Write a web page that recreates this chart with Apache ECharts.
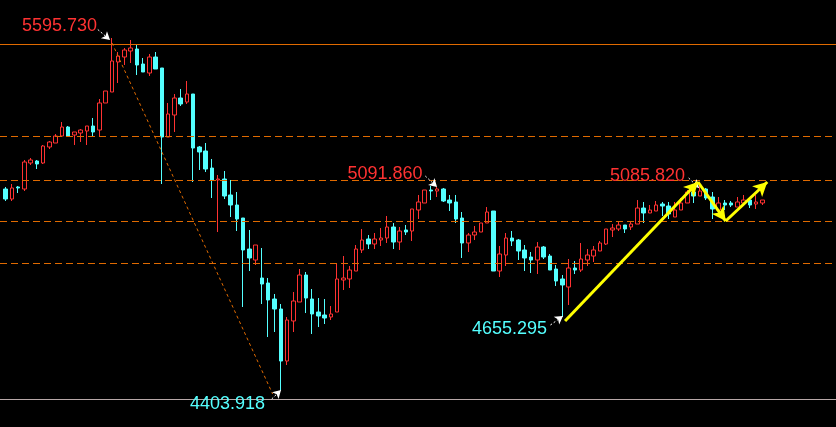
<!DOCTYPE html>
<html><head><meta charset="utf-8">
<script src="https://cdn.jsdelivr.net/npm/echarts@6/dist/echarts.min.js"></script>
<style>html,body{margin:0;padding:0;background:#000;}#c{width:836px;height:427px;}</style>
</head><body><div id="c"></div>
<script>
const opens = [
5084.5,5050.6,5091.3,5084.5,5172.5,5179.3,5172.5,5226.7,5240.2,5263.9,
5294.4,5267.3,5274.1,5280.9,5297.8,5284.2,5375.7,5412.9,5514.5,5531.4,
5551.7,5558.5,5507.7,5477.2,5531.4,5494.2,5260.5,5335.0,5392.6,5379.0,
5406.1,5226.7,5213.1,5155.6,5115.0,5118.3,5064.2,5030.3,4986.3,4881.3,
4844.1,4783.2,4766.2,4712.0,4678.2,4502.1,4637.6,4701.9,4793.3,4712.0,
4668.0,4657.9,4651.1,4668.0,4776.4,4779.8,4806.8,4878.0,4915.2,4898.3,
4911.8,4918.6,4955.8,4905.0,4945.7,4942.3,5013.4,5037.1,5081.1,5077.7,
5084.5,5047.2,5040.5,4986.3,4901.7,4928.7,4938.9,4969.4,5010.0,4806.8,
4861.0,4918.6,4911.8,4878.0,4854.2,4844.1,4888.1,4857.6,4813.6,4779.8,
4752.7,4817.0,4810.2,4844.1,4857.6,4874.6,4898.3,4945.7,4949.1,4962.6,
4955.8,4965.9,5020.1,5003.2,5010.0,5033.7,5026.9,4989.7,5013.4,5037.1,
5074.3,5060.8,5084.5,5057.4,5013.4,5037.1,5037.1,5023.5,5037.1,5047.2,
5033.7,5037.1];
const closes = [
5050.6,5087.9,5087.9,5175.9,5182.7,5169.1,5230.1,5243.6,5263.9,5294.4,
5263.9,5277.5,5284.2,5297.8,5277.5,5375.7,5416.3,5517.9,5534.8,5555.1,
5561.9,5504.3,5480.6,5531.4,5490.8,5260.5,5338.4,5392.6,5372.3,5406.1,
5223.3,5209.8,5152.2,5115.0,5118.3,5060.8,5030.3,4982.9,4878.0,4850.9,
4894.9,4762.8,4708.7,4678.2,4502.1,4640.9,4705.3,4793.3,4715.4,4661.3,
4654.5,4647.7,4661.3,4779.8,4783.2,4810.2,4881.3,4911.8,4898.3,4915.2,
4918.6,4955.8,4905.0,4942.3,4938.9,5016.8,5040.5,5081.1,5077.7,5084.5,
5043.9,5037.1,4982.9,4901.7,4928.7,4938.9,4969.4,5006.6,4806.8,4864.4,
4918.6,4908.4,4874.6,4850.9,4844.1,4888.1,4854.2,4810.2,4773.0,4759.5,
4817.0,4810.2,4847.5,4861.0,4878.0,4901.7,4949.1,4952.4,4962.6,4949.1,
4965.9,5020.1,5003.2,5013.4,5030.3,5026.9,4999.8,5013.4,5037.1,5074.3,
5060.8,5077.7,5054.0,5016.8,5037.1,5030.3,5030.3,5040.5,5047.2,5030.3,
5040.5,5047.2];
const lows = [
5043.9,5043.9,5070.9,5077.7,5165.7,5152.2,5169.1,5219.9,5240.2,5263.9,
5263.9,5233.5,5243.6,5233.5,5263.9,5263.9,5375.7,5412.9,5443.4,5504.3,
5511.1,5470.5,5480.6,5467.1,5490.8,5101.4,5260.5,5277.5,5365.5,5372.3,
5108.2,5148.8,5142.0,5054.0,4938.9,5050.6,4989.7,4942.3,4685.0,4806.8,
4827.2,4695.1,4583.4,4600.3,4403.9,4488.6,4600.3,4701.9,4664.6,4593.6,
4617.2,4627.4,4640.9,4668.0,4742.5,4749.3,4806.8,4867.8,4881.3,4881.3,
4891.5,4901.7,4881.3,4878.0,4928.7,4908.4,4982.9,5037.1,5047.2,5057.4,
5040.5,5010.0,4969.4,4850.9,4871.2,4911.8,4938.9,4969.4,4806.8,4786.6,
4823.8,4891.5,4844.1,4806.8,4800.1,4796.7,4847.5,4810.2,4756.1,4651.1,
4691.7,4796.7,4803.5,4823.8,4837.3,4874.6,4894.9,4921.9,4942.3,4935.5,
4945.7,4965.9,4969.4,5003.2,5010.0,4993.1,4982.9,4989.7,5013.4,5037.1,
5037.1,5060.8,5047.2,4982.9,5013.4,5013.4,5023.5,5023.5,5026.9,5020.1,
5016.8,5030.3];
const highs = [
5091.3,5101.4,5094.6,5182.7,5189.4,5182.7,5233.5,5247.0,5270.7,5311.3,
5297.8,5277.5,5287.6,5297.8,5324.9,5389.2,5416.3,5595.7,5548.3,5561.9,
5589.0,5572.0,5528.0,5541.6,5548.3,5494.2,5375.7,5406.1,5423.1,5450.2,
5406.1,5230.1,5240.2,5186.1,5131.9,5145.4,5115.0,5074.3,4986.3,4945.7,
4894.9,4884.7,4783.2,4729.0,4695.1,4651.1,4735.8,4813.6,4803.5,4745.9,
4715.4,4712.0,4688.3,4833.9,4857.6,4823.8,4894.9,4949.1,4928.7,4935.5,
4952.4,4993.1,4969.4,4955.8,4962.6,5016.8,5064.2,5081.1,5094.6,5091.3,
5087.9,5064.2,5064.2,5006.6,4935.5,4959.2,4969.4,5023.5,5010.0,4891.5,
4935.5,4942.3,4915.2,4894.9,4871.2,4905.0,4891.5,4864.4,4827.2,4793.3,
4847.5,4840.7,4901.7,4881.3,4891.5,4908.4,4949.1,4965.9,4972.8,4962.6,
4976.1,5047.2,5040.5,5030.3,5043.9,5040.5,5040.5,5040.5,5054.0,5081.1,
5101.4,5094.6,5087.9,5074.3,5057.4,5047.2,5043.9,5057.4,5064.2,5047.2,
5064.2,5047.2];
const categories = opens.map((_, i) => String(i + 1));

// horizontal reference levels
const levelTopSolid = 5573.7;
const levelBottomSolid = 4371.8;
const levelsDashed = [5262.2, 5113.3, 4974.4, 4832.2];

// extreme labels and their anchor points (index, price)
const labelTexts = ['5595.730', '5091.860', '5085.820', '4655.295', '4403.918'];
const labelPos = [[8.63, 5636.4], [60.66, 5135.3], [102.62, 5128.5], [80.56, 4610.5], [35.49, 4356.5]];
const labelIsHigh = [true, true, true, false, false];

// small white pointer arrows (from, to)
const whiteArrows = [
  [[14.75, 5624.5], [16.71, 5589.0]],
  [[67.1, 5128.5], [68.98, 5091.3]],
  [[109.2, 5121.7], [110.85, 5087.9]],
  [[87.1, 4624.0], [89.11, 4654.5]],
  [[42.55, 4373.4], [44.04, 4403.9]]
];
// orange dotted trend line
const diagLine = [[17.03, 5578.8], [42.7, 4390.4]];
// yellow arrows
const yellowArrows = [
  [[89.44, 4637.6], [110.69, 5108.2]],
  [[110.69, 5108.2], [115.12, 4976.1]],
  [[115.12, 4976.1], [121.77, 5108.2]]
];

const Y_MIN = 4278.7, Y_MAX = 5724.4;
const RED = '#FF3232', CYAN = '#54FFFF', ORANGE = '#E06A00';

const kdata = opens.map((o, i) => [o, closes[i], lows[i], highs[i]]);

const chart = echarts.init(document.getElementById('c'), null, {renderer: 'canvas'});

const hLines = [
  {yAxis: levelTopSolid, lineStyle: {color: ORANGE, type: 'solid', width: 1}},
  {yAxis: levelBottomSolid, lineStyle: {color: '#B8A8A8', type: 'solid', width: 1}}
].concat(levelsDashed.map(v => ({yAxis: v, lineStyle: {color: ORANGE, type: [7, 4], width: 1}})));

const annLines = [];
annLines.push([
  {coord: diagLine[0], symbol: 'none', lineStyle: {color: ORANGE, type: [3, 3], width: 1}},
  {coord: diagLine[1], symbol: 'none'}
]);
whiteArrows.forEach(a => annLines.push([
  {coord: a[0], symbol: 'none', lineStyle: {color: '#FFFFFF', type: [2, 2], width: 1}},
  {coord: a[1], symbol: 'arrow', symbolSize: [7, 8], itemStyle: {color: '#FFFFFF'}}
]));
yellowArrows.forEach(a => annLines.push([
  {coord: a[0], symbol: 'none', lineStyle: {color: '#FFFF00', type: 'solid', width: 3}},
  {coord: a[1], symbol: 'arrow', symbolSize: [11, 14], itemStyle: {color: '#FFFF00'}}
]));

const annPoints = labelTexts.map((t, i) => ({
  coord: labelPos[i],
  symbol: 'circle',
  symbolSize: 0,
  label: {
    show: true, position: 'inside', formatter: t,
    color: labelIsHigh[i] ? RED : CYAN,
    fontSize: 18, fontFamily: 'Liberation Sans, Arial, sans-serif'
  }
}));

chart.setOption({
  backgroundColor: '#000',
  animation: false,
  grid: [
    {left: 2.37, top: 0, width: 763.23, height: 427},
    {left: 0, top: 0, width: 836, height: 427}
  ],
  xAxis: [
    {type: 'category', gridIndex: 0, data: categories, show: false, boundaryGap: true},
    {type: 'value', gridIndex: 1, min: -0.879, max: 132.75, show: false}
  ],
  yAxis: [
    {type: 'value', gridIndex: 0, min: Y_MIN, max: Y_MAX, show: false},
    {type: 'value', gridIndex: 1, min: Y_MIN, max: Y_MAX, show: false}
  ],
  series: [
    {
      type: 'line', xAxisIndex: 1, yAxisIndex: 1, z: 1,
      data: [[0, 5000]], showSymbol: false, lineStyle: {opacity: 0}, silent: true,
      markLine: {silent: true, symbol: 'none', label: {show: false}, animation: false, data: hLines}
    },
    {
      type: 'candlestick', xAxisIndex: 0, yAxisIndex: 0, z: 3,
      barWidth: 4,
      data: kdata,
      itemStyle: {color: '#000000', color0: CYAN, borderColor: RED, borderColor0: CYAN, borderWidth: 1}
    },
    {
      type: 'line', xAxisIndex: 1, yAxisIndex: 1, z: 5,
      data: [[0, 5000]], showSymbol: false, lineStyle: {opacity: 0}, silent: true,
      markLine: {silent: true, label: {show: false}, animation: false, data: annLines},
      markPoint: {silent: true, animation: false, data: annPoints}
    }
  ]
});
</script>
</body></html>
